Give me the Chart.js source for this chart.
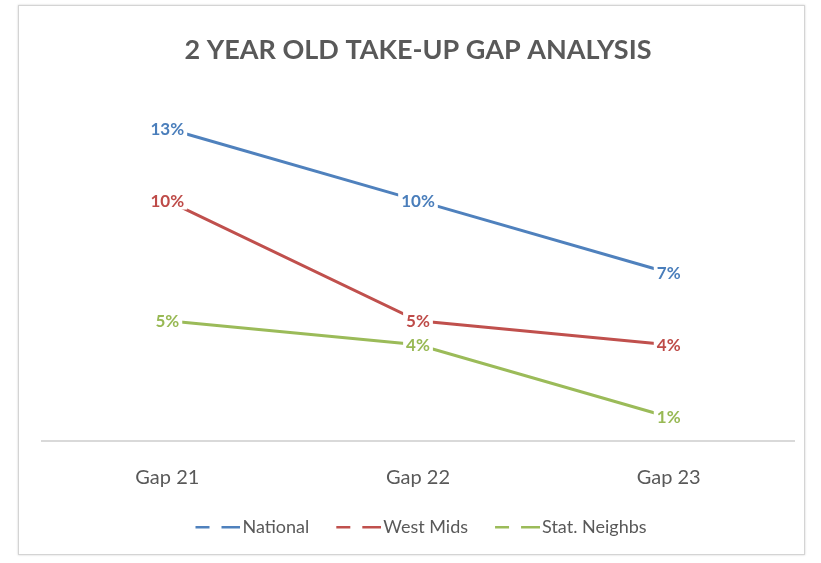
<!DOCTYPE html>
<html>
<head>
<meta charset="utf-8">
<script src="https://cdn.jsdelivr.net/npm/chart.js@4.4.1/dist/chart.umd.min.js"></script>
<style>
  html, body { margin: 0; padding: 0; background: #ffffff; }
  #wrap { position: relative; width: 821px; height: 563px; }
  #frame { position: absolute; left: 18px; top: 5px; width: 787px; height: 550px; border: 1px solid #d4d4d4; box-shadow: 0 0 2px #cfcfcf; box-sizing: border-box; }
  canvas { position: absolute; left: 0; top: 0; }
</style>
</head>
<body>
<div id="wrap">
  <div id="frame"></div>
  <canvas id="c" width="821" height="563"></canvas>
</div>
<script>
const titleText = '2 YEAR OLD TAKE-UP GAP ANALYSIS';
const categories = ['Gap 21', 'Gap 22', 'Gap 23'];
const seriesNames = ['National', 'West Mids', 'Stat. Neighbs'];
const nationalValues = [13, 10, 7];
const westMidsValues = [10, 5, 4];
const statNeighbsValues = [5, 4, 1];
const seriesColors = ['#4F81BD', '#C0504D', '#9BBB59'];
const labelColors = ['#4A7EBB', '#BE4B48', '#98B954'];

const FONT = "Lato, 'Open Sans', sans-serif";

// legend swatch: transparent lead-in, then "— —" dashed marker at the right end
function dashSwatch(color) {
  const cv = document.createElement('canvas');
  cv.width = 76; cv.height = 4;
  const g = cv.getContext('2d');
  g.fillStyle = color;
  g.fillRect(31, 1, 14, 2.5);
  g.fillRect(57, 1, 19, 2.5);
  return cv;
}

const dataLabelPlugin = {
  id: 'pointLabels',
  afterDatasetsDraw(chart) {
    const ctx = chart.ctx;
    ctx.save();
    ctx.font = "bold 17px " + FONT;
    ctx.textAlign = 'center';
    ctx.textBaseline = 'middle';
    chart.data.datasets.forEach((ds, i) => {
      const meta = chart.getDatasetMeta(i);
      meta.data.forEach((pt, j) => {
        const txt = ds.data[j] + '%';
        const w = ctx.measureText(txt).width;
        ctx.fillStyle = '#ffffff';
        ctx.fillRect(pt.x - w / 2 - 3, pt.y - 9, w + 6, 18);
        ctx.fillStyle = labelColors[i];
        ctx.fillText(txt, pt.x, pt.y + 1);
      });
    });
    ctx.restore();
  }
};

// compensate the transparent lead-in of the first swatch when centering the legend row
const legendCenterPlugin = {
  id: 'legendCenter',
  afterLayout(chart) {
    const lg = chart.legend;
    if (lg && lg.lineWidths && lg.lineWidths.length) lg.lineWidths[0] += 18;
  }
};

const mkDs = (idx, values) => ({
  label: seriesNames[idx],
  data: values,
  borderColor: seriesColors[idx],
  backgroundColor: seriesColors[idx],
  borderWidth: 3,
  pointRadius: 0,
  pointHoverRadius: 0,
  tension: 0,
  pointStyle: dashSwatch(seriesColors[idx])
});

new Chart(document.getElementById('c'), {
  type: 'line',
  data: {
    labels: categories,
    datasets: [mkDs(0, nationalValues), mkDs(1, westMidsValues), mkDs(2, statNeighbsValues)]
  },
  options: {
    responsive: false,
    animation: false,
    layout: { padding: { left: 42, right: 27, top: 0, bottom: 17 } },
    plugins: {
      title: {
        display: true,
        text: titleText,
        color: '#595959',
        font: { family: FONT, size: 27, weight: 'bold' },
        padding: { top: 34, bottom: 38 }
      },
      legend: {
        position: 'bottom',
        labels: {
          usePointStyle: true,
          pointStyleWidth: 62,
          color: '#595959',
          font: { family: FONT, size: 18 },
          padding: 3
        }
      },
      tooltip: { enabled: false }
    },
    scales: {
      x: {
        offset: true,
        grid: { display: false, drawTicks: false },
        border: { display: true, color: '#D9D9D9', width: 2 },
        ticks: { color: '#595959', font: { family: FONT, size: 20 }, padding: 25 }
      },
      y: {
        display: false,
        min: 0,
        max: 14
      }
    }
  },
  plugins: [dataLabelPlugin, legendCenterPlugin]
});
</script>
</body>
</html>
